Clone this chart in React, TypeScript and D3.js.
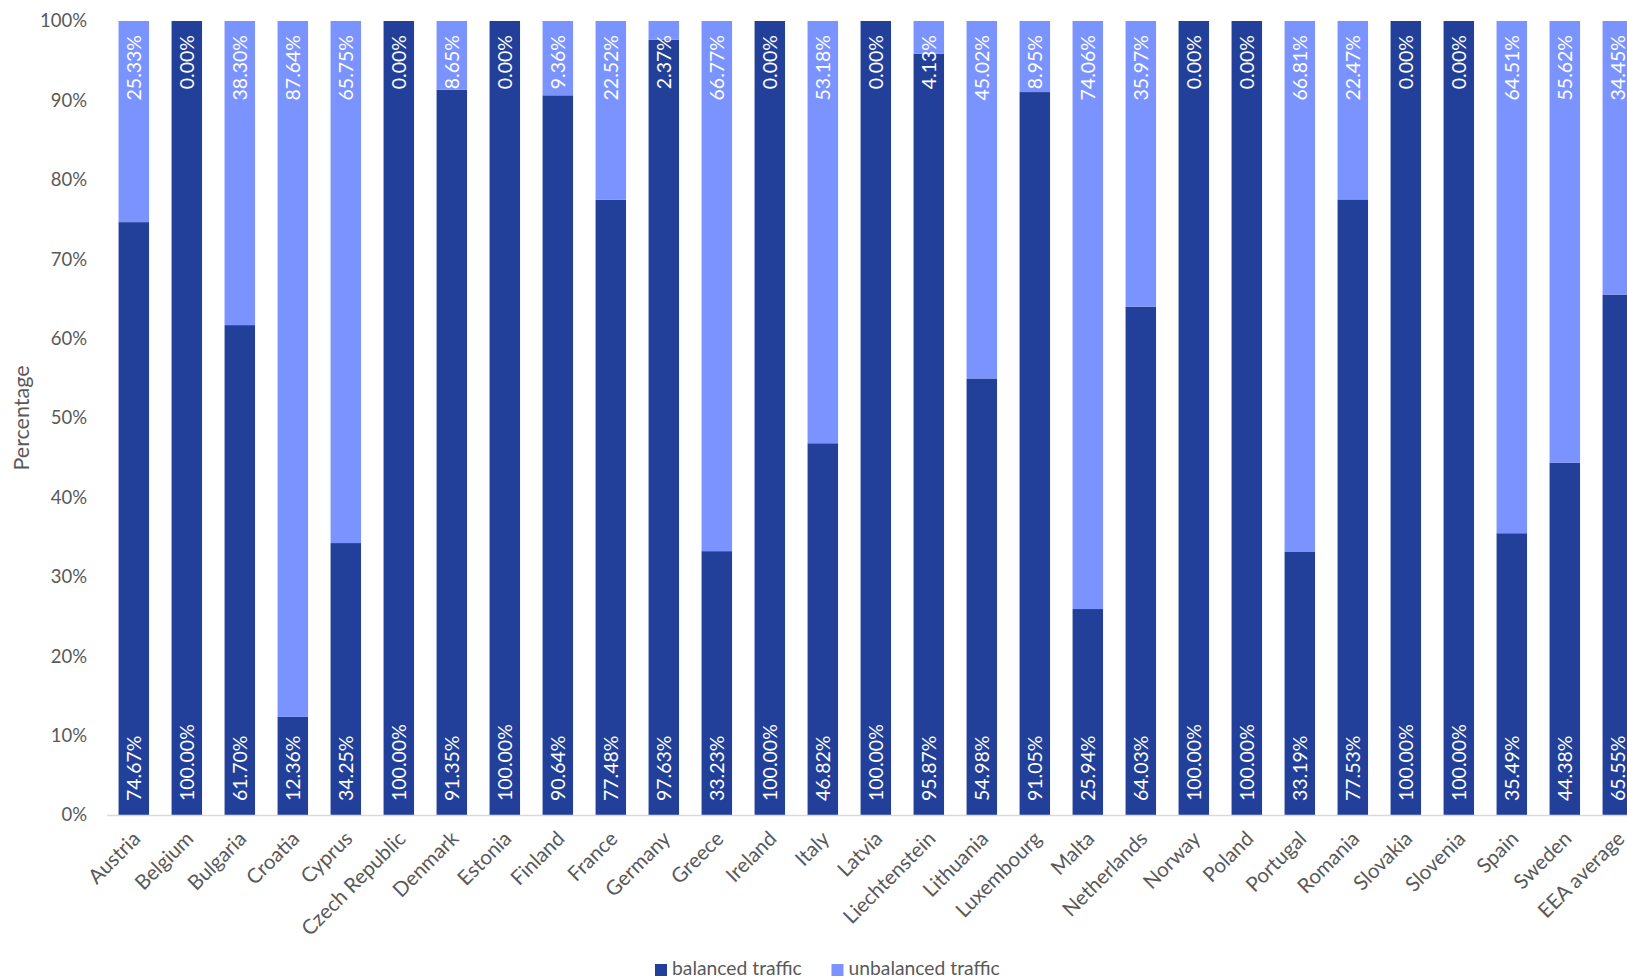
import React from "react";
import * as d3 from "d3";

const categories = [
  "Austria", "Belgium", "Bulgaria", "Croatia", "Cyprus", "Czech Republic", "Denmark", "Estonia",
  "Finland", "France", "Germany", "Greece", "Ireland", "Italy", "Latvia", "Liechtenstein",
  "Lithuania", "Luxembourg", "Malta", "Netherlands", "Norway", "Poland", "Portugal", "Romania",
  "Slovakia", "Slovenia", "Spain", "Sweden", "EEA average",
];
const balanced = [
  74.67, 100.0, 61.7, 12.36, 34.25, 100.0, 91.35, 100.0, 90.64, 77.48, 97.63, 33.23, 100.0, 46.82,
  100.0, 95.87, 54.98, 91.05, 25.94, 64.03, 100.0, 100.0, 33.19, 77.53, 100.0, 100.0, 35.49, 44.38, 65.55,
];
const unbalanced = [
  25.33, 0.0, 38.3, 87.64, 65.75, 0.0, 8.65, 0.0, 9.36, 22.52, 2.37, 66.77, 0.0, 53.18,
  0.0, 4.13, 45.02, 8.95, 74.06, 35.97, 0.0, 0.0, 66.81, 22.47, 0.0, 0.0, 64.51, 55.62, 34.45,
];
const yTicks = [0, 10, 20, 30, 40, 50, 60, 70, 80, 90, 100];
const seriesNames = ["balanced traffic", "unbalanced traffic"];

const W = 1627;
const H = 979;
const DARK = "#22409A";
const LIGHT = "#7A93FF";
const TEXT = "#595959";
const FONT = "Lato, 'Open Sans', sans-serif";

export default function App() {
  const x = d3
    .scaleBand<string>()
    .domain(categories)
    .range([107.3, 107.3 + 53 * categories.length])
    .paddingInner(0.425)
    .paddingOuter(0.2125);
  const y = d3.scaleLinear().domain([0, 100]).range([815, 21]);
  const bw = x.bandwidth();

  return (
    <svg
      width={W}
      height={H}
      style={{ position: "absolute", left: 0, top: 0, background: "#fff" }}
      fontFamily={FONT}
    >
      {/* y ticks */}
      {yTicks.map((t) => (
        <text
          key={t}
          x={87}
          y={y(t)}
          dy="0.35em"
          textAnchor="end"
          fontSize={18.5}
          fill={TEXT}
        >
          {t}%
        </text>
      ))}
      <text
        transform={`translate(21,${y(50)}) rotate(-90)`}
        textAnchor="middle"
        dy="0.35em"
        fontSize={21.5}
        fill={TEXT}
      >
        Percentage
      </text>

      {/* bars */}
      {categories.map((c, i) => {
        const x0 = x(c)!;
        const cx = x0 + bw / 2;
        const b = balanced[i];
        const u = unbalanced[i];
        return (
          <g key={c}>
            <rect x={x0} width={bw} y={y(b)} height={y(0) - y(b)} fill={DARK} />
            {u > 0 && (
              <rect x={x0} width={bw} y={y(b + u)} height={y(b) - y(b + u)} fill={LIGHT} />
            )}
            <text
              transform={`translate(${cx},${y(0) - 14}) rotate(-90)`}
              dy="0.36em"
              textAnchor="start"
              fontSize={19.5}
              fill="#fff"
            >
              {b.toFixed(2)}%
            </text>
            <text
              transform={`translate(${cx},${y(100) + 14}) rotate(-90)`}
              dy="0.36em"
              textAnchor="end"
              fontSize={19.5}
              fill="#fff"
            >
              {u.toFixed(2)}%
            </text>
          </g>
        );
      })}

      {/* x axis line */}
      <line x1={107} x2={W} y1={815.5} y2={815.5} stroke="#D9D9D9" strokeWidth={1.5} />

      {/* category labels */}
      {categories.map((c) => {
        const cx = x(c)! + bw / 2;
        return (
          <text
            key={c}
            transform={`translate(${cx + 8},${840}) rotate(-45)`}
            textAnchor="end"
            fontSize={20.5}
            fill={TEXT}
          >
            {c}
          </text>
        );
      })}

      {/* legend */}
      {seriesNames.map((s, i) => {
        const lx = i === 0 ? 655 : 831.5;
        return (
          <g key={s}>
            <rect x={lx} y={964} width={12} height={12} fill={i === 0 ? DARK : LIGHT} />
            <text x={lx + 17} y={974.5} fontSize={19.3} fill={TEXT}>
              {s}
            </text>
          </g>
        );
      })}
    </svg>
  );
}
